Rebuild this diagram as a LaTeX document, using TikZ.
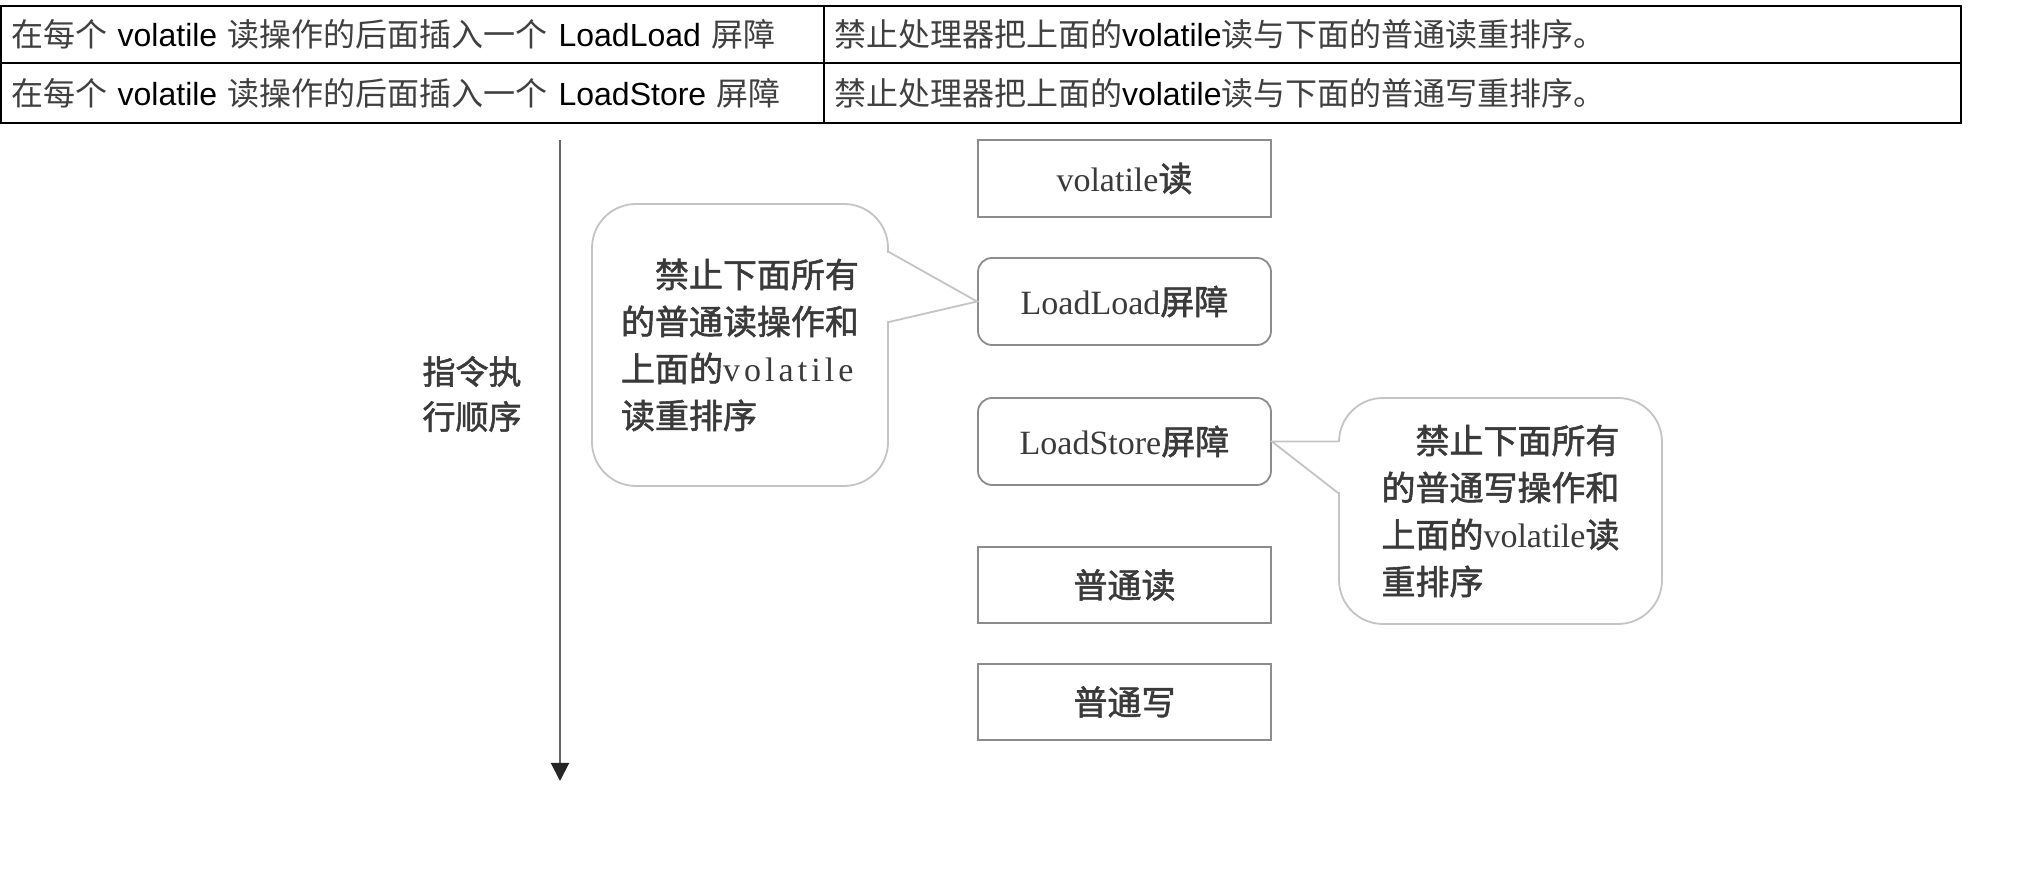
\documentclass[tikz,border=0pt]{standalone}
\usepackage{fontspec}
\setmainfont{Liberation Serif}
\newfontfamily\cjk{Noto Sans CJK SC}
\newfontfamily\cjkb{Noto Sans CJK SC}[FakeBold=1.6]
\newfontfamily\tabsans{Liberation Sans}
\newfontfamily\spaced{Liberation Serif}[LetterSpace=12]
\usetikzlibrary{arrows.meta,calc}
\definecolor{txt}{HTML}{3A3A3A}
\definecolor{tabcjk}{HTML}{404040}
\definecolor{boxline}{HTML}{8C8C8C}
\definecolor{bubline}{HTML}{C4C4C4}
\begin{document}
\begin{tikzpicture}[x=0.5pt,y=-0.5pt,
  tabcell/.style={draw=black, line width=1pt, inner xsep=5pt, inner ysep=0pt, align=left,
    font=\tabsans\fontsize{16pt}{20pt}\selectfont, text=black},
  box/.style={draw=boxline, line width=0.9pt, minimum width=146.5pt, inner sep=0pt,
    font=\fontsize{17pt}{20pt}\selectfont, text=txt},
  rbox/.style={box, rounded corners=7pt},
  bubble/.style={draw=bubline, line width=0.9pt, rounded corners=22pt, align=left, inner sep=0pt,
    font=\fontsize{17pt}{23.5pt}\selectfont, text=txt},
  bubptr/.style={draw=bubline, line width=0.9pt, line join=miter},
  flow/.style={draw=black!60, line width=1pt, -{Triangle[width=9pt,length=9pt,color=black!85,fill=black!85]}},
  axislabel/.style={align=center, font=\cjkb\fontsize{16.5pt}{22.5pt}\selectfont, text=txt}
]
\useasboundingbox (0,0) rectangle (2026,870);
\fill[white] (0,0) rectangle (2026,870);

% table
\node[tabcell, minimum width=411.5pt, minimum height=28.5pt, text width=401.5pt] (c11) at (412.5,34.5)
  {{\cjk\color{tabcjk} 在每个} volatile {\cjk\color{tabcjk} 读操作的后面插入一个} LoadLoad {\cjk\color{tabcjk} 屏障}};
\node[tabcell, minimum width=568.5pt, minimum height=28.5pt, text width=558.5pt] (c12) at (1392.5,34.5)
  {{\cjk\color{tabcjk} 禁止处理器把上面的}volatile{\cjk\color{tabcjk} 读与下面的普通读重排序。}};
\node[tabcell, minimum width=411.5pt, minimum height=30pt, text width=401.5pt] (c21) at (412.5,93)
  {{\cjk\color{tabcjk} 在每个} volatile {\cjk\color{tabcjk} 读操作的后面插入一个} LoadStore {\cjk\color{tabcjk} 屏障}};
\node[tabcell, minimum width=568.5pt, minimum height=30pt, text width=558.5pt] (c22) at (1392.5,93)
  {{\cjk\color{tabcjk} 禁止处理器把上面的}volatile{\cjk\color{tabcjk} 读与下面的普通写重排序。}};

% time axis
\coordinate (atop) at (560,140);
\coordinate (abot) at (560,781);
\draw[flow] (atop) -- (abot);
\node[axislabel] (order) at (472,394) {指令执\\行顺序};

% bubbles
\node[bubble, minimum width=148pt, minimum height=141pt] (lb) at (740,345)
  {\hspace*{1em}{\cjkb 禁止下面所有}\\{\cjkb 的普通读操作和}\\{\cjkb 上面的}{\spaced volatile}\\{\cjkb 读重排序}};
\node[bubble, minimum width=161.5pt, minimum height=113pt] (rb) at (1500.5,511)
  {\hspace*{1em}{\cjkb 禁止下面所有}\\{\cjkb 的普通写操作和}\\{\cjkb 上面的}volatile{\cjkb 读}\\{\cjkb 重排序}};

% boxes
\node[box, minimum height=38.5pt] (vr) at (1124.5,178.5) {volatile{\cjkb 读}};
\node[rbox, minimum height=43.5pt] (ll) at (1124.5,301.5) {LoadLoad{\cjkb 屏障}};
\node[rbox, minimum height=43.5pt] (ls) at (1124.5,441.5) {LoadStore{\cjkb 屏障}};
\node[box, minimum height=38pt] (pr) at (1124.5,585) {\cjkb 普通读};
\node[box, minimum height=38pt] (pw) at (1124.5,702) {\cjkb 普通写};

% callout pointers
\fill[white] ($(lb.east)+(-5,-92)$) rectangle ($(lb.east)+(5,-24)$);
\draw[bubptr] ($(lb.east)+(0,-93)$) -- (ll.west) -- ($(lb.east)+(0,-23)$);
\fill[white] ($(rb.west |- ls.east)+(-5,1)$) rectangle ($(rb.west)+(5,-19)$);
\draw[bubptr] (rb.west |- ls.east) -- (ls.east) -- ($(rb.west)+(0,-18)$);
\end{tikzpicture}
\end{document}
